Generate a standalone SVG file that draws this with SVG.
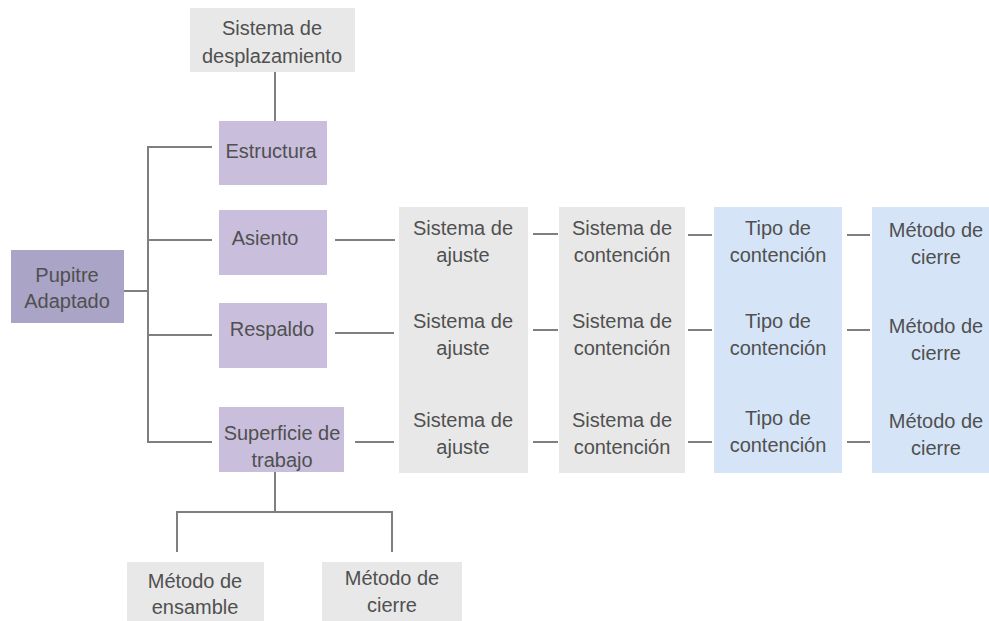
<svg xmlns="http://www.w3.org/2000/svg" width="989" height="621" viewBox="0 0 989 621">
<style>
  text { font-family: "Liberation Sans", Arial, sans-serif; font-size: 20px; fill: #505050; text-anchor: middle; }
  .purple { fill: #c9bfdd; }
  .dark { fill: #aaa4c6; }
  .gray { fill: #e8e8e8; }
  .blue { fill: #d5e5f7; }
  .col { shape-rendering: crispEdges; }
  #connectors line, #connectors polyline { stroke: #7f7f7f; stroke-width: 2; fill: none; }
</style>
<rect x="0" y="0" width="989" height="621" fill="#ffffff"/>

<g id="connectors">
  <line x1="275" y1="72" x2="275" y2="121"/>
  <line x1="148" y1="146" x2="148" y2="443"/>
  <line x1="148" y1="147" x2="212" y2="147"/>
  <line x1="148" y1="240" x2="212" y2="240"/>
  <line x1="148" y1="335" x2="212" y2="335"/>
  <line x1="148" y1="442" x2="212" y2="442"/>
  <line x1="124" y1="291" x2="148" y2="291"/>
  <line x1="335" y1="240" x2="395" y2="240"/>
  <line x1="335" y1="333" x2="394" y2="333"/>
  <line x1="355" y1="442" x2="394" y2="442"/>
  <line x1="533" y1="234" x2="558" y2="234"/>
  <line x1="688" y1="235" x2="712" y2="235"/>
  <line x1="847" y1="235" x2="870" y2="235"/>
  <line x1="533" y1="330" x2="558" y2="330"/>
  <line x1="688" y1="330" x2="712" y2="330"/>
  <line x1="847" y1="330" x2="870" y2="330"/>
  <line x1="533" y1="442" x2="558" y2="442"/>
  <line x1="688" y1="442" x2="712" y2="442"/>
  <line x1="847" y1="442" x2="870" y2="442"/>
  <line x1="275" y1="472" x2="275" y2="512"/>
  <polyline points="177,552 177,512 392,512 392,552"/>
</g>

<g id="n-desplazamiento">
  <rect class="gray" x="190" y="8" width="165" height="64"/>
  <text x="272" y="35">Sistema de</text>
  <text x="272" y="63">desplazamiento</text>
</g>
<g id="n-pupitre">
  <rect class="dark" x="11" y="250" width="113" height="73"/>
  <text x="67" y="282">Pupitre</text>
  <text x="67" y="308">Adaptado</text>
</g>
<g id="n-estructura">
  <rect class="purple" x="219" y="121" width="108" height="64"/>
  <text x="271" y="158">Estructura</text>
</g>
<g id="n-asiento">
  <rect class="purple" x="219" y="210" width="108" height="65"/>
  <text x="265" y="245">Asiento</text>
</g>
<g id="n-respaldo">
  <rect class="purple" x="219" y="303" width="108" height="65"/>
  <text x="272" y="336">Respaldo</text>
</g>
<g id="n-superficie">
  <rect class="purple" x="219" y="407" width="125" height="65"/>
  <text x="282" y="440">Superficie de</text>
  <text x="282" y="467">trabajo</text>
</g>

<g id="n-ajuste-1">
  <rect class="gray col" x="399" y="207" width="129" height="91"/>
  <text x="463" y="235">Sistema de</text>
  <text x="463" y="262">ajuste</text>
</g>
<g id="n-ajuste-2">
  <rect class="gray col" x="399" y="297" width="129" height="89"/>
  <text x="463" y="328">Sistema de</text>
  <text x="463" y="355">ajuste</text>
</g>
<g id="n-ajuste-3">
  <rect class="gray col" x="399" y="385" width="129" height="88"/>
  <text x="463" y="427">Sistema de</text>
  <text x="463" y="454">ajuste</text>
</g>

<g id="n-contencion-1">
  <rect class="gray col" x="559" y="207" width="126" height="91"/>
  <text x="622" y="235">Sistema de</text>
  <text x="622" y="262">contención</text>
</g>
<g id="n-contencion-2">
  <rect class="gray col" x="559" y="297" width="126" height="89"/>
  <text x="622" y="328">Sistema de</text>
  <text x="622" y="355">contención</text>
</g>
<g id="n-contencion-3">
  <rect class="gray col" x="559" y="385" width="126" height="88"/>
  <text x="622" y="427">Sistema de</text>
  <text x="622" y="454">contención</text>
</g>

<g id="n-tipo-1">
  <rect class="blue col" x="714" y="207" width="128" height="91"/>
  <text x="778" y="235">Tipo de</text>
  <text x="778" y="262">contención</text>
</g>
<g id="n-tipo-2">
  <rect class="blue col" x="714" y="297" width="128" height="89"/>
  <text x="778" y="328">Tipo de</text>
  <text x="778" y="355">contención</text>
</g>
<g id="n-tipo-3">
  <rect class="blue col" x="714" y="385" width="128" height="88"/>
  <text x="778" y="425">Tipo de</text>
  <text x="778" y="452">contención</text>
</g>

<g id="n-metodo-1">
  <rect class="blue col" x="872" y="207" width="128" height="91"/>
  <text x="936" y="237">Método de</text>
  <text x="936" y="264">cierre</text>
</g>
<g id="n-metodo-2">
  <rect class="blue col" x="872" y="297" width="128" height="89"/>
  <text x="936" y="333">Método de</text>
  <text x="936" y="360">cierre</text>
</g>
<g id="n-metodo-3">
  <rect class="blue col" x="872" y="385" width="128" height="88"/>
  <text x="936" y="428">Método de</text>
  <text x="936" y="455">cierre</text>
</g>

<g id="n-ensamble">
  <rect class="gray" x="127" y="562" width="137" height="62"/>
  <text x="195" y="588">Método de</text>
  <text x="195" y="614">ensamble</text>
</g>
<g id="n-cierre-bottom">
  <rect class="gray" x="322" y="562" width="140" height="62"/>
  <text x="392" y="585">Método de</text>
  <text x="392" y="612">cierre</text>
</g>
</svg>
